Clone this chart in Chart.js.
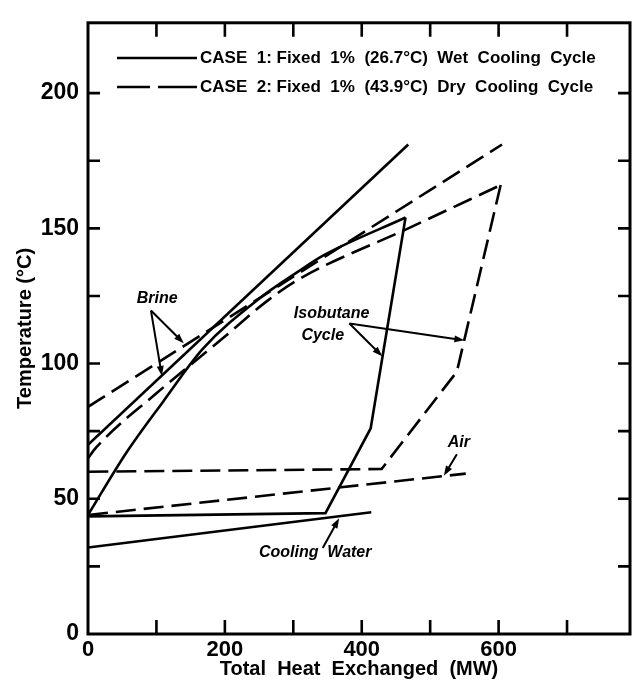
<!DOCTYPE html>
<html>
<head>
<meta charset="utf-8">
<script src="https://cdn.jsdelivr.net/npm/chart.js@4.4.1/dist/chart.umd.min.js"></script>
<style>
  html, body { margin: 0; padding: 0; background: #fff; }
  canvas { display: block; }
</style>
</head>
<body>
<canvas id="chart" width="633" height="685"></canvas>
<script>
// heat exchanged (MW) / temperature (degC)
var brineWetQ = [0, 468];
var brineWetT = [70, 181];
var brineDryQ = [0, 605];
var brineDryT = [84, 181];

var isoWetHeatQ = [0, 56, 110, 168, 250, 307, 344, 464];
var isoWetHeatT = [44, 67, 86, 105.5, 124, 134, 140, 154];
var isoWetBackQ = [464, 413, 347, 0];
var isoWetBackT = [154, 76, 44.7, 43.5];

var isoDryHeatQ = [0, 12, 100, 200, 261, 307, 468, 603];
var isoDryHeatT = [65, 69, 89, 110, 123, 131, 150, 166];
var isoDryBackQ = [603, 539, 429, 0];
var isoDryBackT = [166, 97, 61, 60];

var coolingWaterQ = [0, 414];
var coolingWaterT = [32, 45];
var airQ = [0, 552];
var airT = [44, 59.3];

var xTicks = [0, 100, 200, 300, 400, 500, 600, 700];
var xTickLabels = [0, 200, 400, 600];
var yTicks = [0, 25, 50, 75, 100, 125, 150, 175, 200];
var yTickLabels = [0, 50, 100, 150, 200];

var FONT = '"Liberation Sans", Arial, sans-serif';
var DASH = [20, 8];

function pts(qs, ts) {
  return qs.map(function(q, i) { return { x: q, y: ts[i] }; });
}

function line(qs, ts, dashed, smooth) {
  return {
    data: pts(qs, ts),
    showLine: true,
    borderColor: '#000',
    borderWidth: 2.6,
    borderDash: dashed ? DASH : [],
    pointRadius: 0,
    fill: false,
    cubicInterpolationMode: smooth ? 'monotone' : 'default',
    tension: 0
  };
}

function arrow(ctx, x0, y0, x1, y1) {
  var ang = Math.atan2(y1 - y0, x1 - x0), L = 10, W = 3.5;
  ctx.beginPath();
  ctx.moveTo(x0, y0);
  ctx.lineTo(x1 - Math.cos(ang) * L * 0.6, y1 - Math.sin(ang) * L * 0.6);
  ctx.stroke();
  ctx.beginPath();
  ctx.moveTo(x1, y1);
  ctx.lineTo(x1 - Math.cos(ang) * L - Math.sin(ang) * W, y1 - Math.sin(ang) * L + Math.cos(ang) * W);
  ctx.lineTo(x1 - Math.cos(ang) * L + Math.sin(ang) * W, y1 - Math.sin(ang) * L - Math.cos(ang) * W);
  ctx.closePath();
  ctx.fill();
}

var frameAndNotes = {
  id: 'frameAndNotes',
  afterDatasetsDraw: function(chart) {
    var ctx = chart.ctx, a = chart.chartArea, xs = chart.scales.x, ys = chart.scales.y;
    var px = function(q) { return xs.getPixelForValue(q); };
    var py = function(t) { return ys.getPixelForValue(t); };
    ctx.save();
    ctx.strokeStyle = '#000';
    ctx.fillStyle = '#000';

    // frame
    ctx.lineWidth = 3;
    ctx.strokeRect(a.left, a.top, a.right - a.left, a.bottom - a.top);

    // inward tick marks on all four sides
    ctx.lineWidth = 2.6;
    ctx.beginPath();
    ys.ticks.forEach(function(t) {
      if (t.value <= 0) return;
      var y = py(t.value);
      ctx.moveTo(a.left, y); ctx.lineTo(a.left + 12, y);
      ctx.moveTo(a.right, y); ctx.lineTo(a.right - 12, y);
    });
    xs.ticks.forEach(function(t) {
      if (t.value <= 0) return;
      var x = px(t.value);
      ctx.moveTo(x, a.bottom); ctx.lineTo(x, a.bottom - 14);
      ctx.moveTo(x, a.top); ctx.lineTo(x, a.top + 14);
    });
    ctx.stroke();

    // legend
    ctx.lineWidth = 2.6;
    ctx.beginPath();
    ctx.moveTo(117, 58); ctx.lineTo(197, 58);
    ctx.moveTo(117, 87); ctx.lineTo(150, 87);
    ctx.moveTo(158, 87); ctx.lineTo(197, 87);
    ctx.stroke();
    ctx.font = 'bold 17px ' + FONT;
    ctx.textAlign = 'left';
    ctx.textBaseline = 'middle';
    ctx.fillText('CASE  1: Fixed  1%  (26.7\u00B0C)  Wet  Cooling  Cycle', 200, 58);
    ctx.fillText('CASE  2: Fixed  1%  (43.9\u00B0C)  Dry  Cooling  Cycle', 200, 87);

    // curve labels
    ctx.font = 'italic bold 16px ' + FONT;
    ctx.textAlign = 'center';
    ctx.fillText('Brine', px(101), py(124));
    ctx.fillText('Isobutane', px(356), py(118.5));
    ctx.fillText('Cycle', px(343), py(110.4));
    ctx.fillText('Air', px(542), py(70.6));
    ctx.fillText('Cooling  Water', px(332), py(30));

    ctx.lineWidth = 2;
    arrow(ctx, px(92), py(119.6), px(140), py(107.5));
    arrow(ctx, px(92), py(119.6), px(108), py(95.4));
    arrow(ctx, px(382), py(114.8), px(550), py(108.6));
    arrow(ctx, px(382), py(114.8), px(430), py(102.7));
    arrow(ctx, px(539), py(66.5), px(520), py(58.5));
    arrow(ctx, px(343), py(31.8), px(367), py(42.8));
    ctx.restore();
  }
};

var ctx = document.getElementById('chart').getContext('2d');
var chart = new Chart(ctx, {
  type: 'scatter',
  data: {
    datasets: [
      line(brineWetQ, brineWetT, false, false),
      line(brineDryQ, brineDryT, true, false),
      line(isoWetHeatQ, isoWetHeatT, false, true),
      line(isoWetBackQ, isoWetBackT, false, false),
      line(isoDryHeatQ, isoDryHeatT, true, true),
      line(isoDryBackQ, isoDryBackT, true, false),
      line(coolingWaterQ, coolingWaterT, false, false),
      line(airQ, airT, true, false)
    ]
  },
  options: {
    responsive: false,
    animation: false,
    devicePixelRatio: 1,
    layout: { padding: { top: 17, right: 3, bottom: 0, left: 0 } },
    plugins: {
      legend: { display: false },
      tooltip: { enabled: false }
    },
    scales: {
      x: {
        type: 'linear',
        min: 0,
        max: 792,
        grid: { display: false, tickLength: 0 },
        border: { display: false },
        afterBuildTicks: function(s) {
          s.ticks = xTicks.map(function(v) { return { value: v }; });
        },
        ticks: {
          autoSkip: false,
          maxRotation: 0,
          padding: 3,
          color: '#000',
          font: { family: FONT, size: 22, weight: 'bold' },
          callback: function(v) { return xTickLabels.indexOf(v) >= 0 ? String(v) : ''; }
        },
        title: {
          display: true,
          text: 'Total  Heat  Exchanged  (MW)',
          color: '#000',
          font: { family: FONT, size: 20, weight: 'bold' },
          padding: { top: 0, bottom: 4 }
        },
        afterFit: function(s) { s.height = 51; }
      },
      y: {
        type: 'linear',
        min: 0,
        max: 226,
        grid: { display: false, tickLength: 0 },
        border: { display: false },
        afterBuildTicks: function(s) {
          s.ticks = yTicks.map(function(v) { return { value: v }; });
        },
        ticks: {
          autoSkip: false,
          padding: 9,
          color: '#000',
          font: { family: FONT, size: 23, weight: 'bold' },
          callback: function(v) { return yTickLabels.indexOf(v) >= 0 ? String(v) : ''; }
        },
        title: {
          display: true,
          text: 'Temperature (\u00B0C)',
          color: '#000',
          font: { family: FONT, size: 20, weight: 'bold' },
          padding: { top: 13, bottom: 0 }
        },
        afterFit: function(s) { s.width = 88; }
      }
    }
  },
  plugins: [frameAndNotes]
});
</script>
</body>
</html>
